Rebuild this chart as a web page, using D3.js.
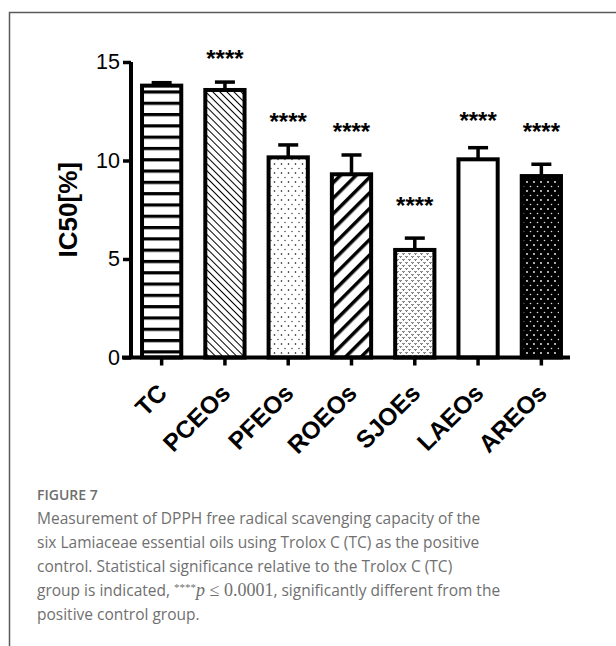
<!DOCTYPE html>
<html>
<head>
<meta charset="utf-8">
<script src="https://cdn.jsdelivr.net/npm/d3@7"></script>
<style>
  html, body { margin: 0; padding: 0; background: #fff; }
  svg { display: block; }
</style>
</head>
<body>
<svg id="chart" width="616" height="646"></svg>
<script>
// ---- data ----
const categories = ["TC", "PCEOs", "PFEOs", "ROEOs", "SJOEs", "LAEOs", "AREOs"];
const means      = [13.80, 13.58, 10.16, 9.30, 5.46, 10.06, 9.21];
const errors     = [0.15, 0.40, 0.63, 0.98, 0.60, 0.59, 0.60];
const sigLabels  = ["", "****", "****", "****", "****", "****", "****"];
const sigHeights = [null, 15.43, 12.23, 11.72, 7.92, 12.28, 11.72];
const yTicks     = [0, 5, 10, 15];
const patterns   = ["hstripe", "thinDiag", "dots", "thickDiag", "speckle", "none", "blackDots"];
const yLabel = "IC50[%]";
const figLabel = "FIGURE 7";
const captionLines = [
  "Measurement of DPPH free radical scavenging capacity of the",
  "six Lamiaceae essential oils using Trolox C (TC) as the positive",
  "control. Statistical significance relative to the Trolox C (TC)",
  null,
  "positive control group."
];

const svg = d3.select("#chart");

// frame
svg.append("path")
  .attr("d", "M9.5,646 L9.5,12.5 L616,12.5")
  .attr("fill", "none").attr("stroke", "#5a5a5a").attr("stroke-width", 1.5);

// ---- patterns ----
const defs = svg.append("defs");
let p = defs.append("pattern").attr("id", "hstripe").attr("patternUnits", "userSpaceOnUse")
  .attr("width", 10).attr("height", 11.3).attr("y", 0);
p.append("rect").attr("width", 10).attr("height", 11.3).attr("fill", "#fff");
p.append("rect").attr("y", 0).attr("width", 10).attr("height", 3.2).attr("fill", "#000");
// thin "\" diagonal
p = defs.append("pattern").attr("id", "thinDiag").attr("patternUnits", "userSpaceOnUse")
  .attr("width", 5).attr("height", 5).attr("patternTransform", "rotate(-45)");
p.append("rect").attr("width", 5).attr("height", 5).attr("fill", "#fff");
p.append("rect").attr("x", 0).attr("width", 1).attr("height", 5).attr("fill", "#000");
// sparse dots
p = defs.append("pattern").attr("id", "dots").attr("patternUnits", "userSpaceOnUse")
  .attr("width", 7).attr("height", 9);
p.append("rect").attr("width", 7).attr("height", 9).attr("fill", "#fff");
p.append("circle").attr("cx", 1.5).attr("cy", 2).attr("r", 0.8).attr("fill", "#000");
p.append("circle").attr("cx", 5).attr("cy", 6.5).attr("r", 0.7).attr("fill", "#333");
// thick "/" diagonal
p = defs.append("pattern").attr("id", "thickDiag").attr("patternUnits", "userSpaceOnUse")
  .attr("width", 11).attr("height", 11).attr("patternTransform", "rotate(45)");
p.append("rect").attr("width", 11).attr("height", 11).attr("fill", "#fff");
p.append("rect").attr("x", 0).attr("width", 3.5).attr("height", 11).attr("fill", "#000");
// speckle
p = defs.append("pattern").attr("id", "speckle").attr("patternUnits", "userSpaceOnUse")
  .attr("width", 6).attr("height", 6);
p.append("rect").attr("width", 6).attr("height", 6).attr("fill", "#fff");
p.append("path").attr("d", "M0.5,1 L1.5,2.5 L2.5,1").attr("fill", "none").attr("stroke", "#222").attr("stroke-width", 0.8);
p.append("path").attr("d", "M3.5,4 L4.5,5.5 L5.5,4").attr("fill", "none").attr("stroke", "#222").attr("stroke-width", 0.8);
// black with white dots
p = defs.append("pattern").attr("id", "blackDots").attr("patternUnits", "userSpaceOnUse")
  .attr("width", 7).attr("height", 9);
p.append("rect").attr("width", 7).attr("height", 9).attr("fill", "#000");
p.append("circle").attr("cx", 2).attr("cy", 2).attr("r", 0.9).attr("fill", "#fff");
p.append("circle").attr("cx", 5.5).attr("cy", 6.5).attr("r", 0.8).attr("fill", "#ddd");

// ---- scales ----
const x = d3.scaleBand().domain(categories).range([130, 573]).paddingInner(0.38).paddingOuter(0.19);
const y = d3.scaleLinear().domain([0, 15]).range([357.5, 62]);

const data = categories.map((c, i) => ({ c, m: means[i], e: errors[i], s: sigLabels[i], sh: sigHeights[i], p: patterns[i] }));

// bars
svg.append("g").selectAll("rect").data(data).join("rect")
  .attr("x", d => x(d.c))
  .attr("y", d => y(d.m))
  .attr("width", x.bandwidth())
  .attr("height", d => y(0) - y(d.m))
  .attr("fill", d => d.p === "none" ? "#fff" : `url(#${d.p})`)
  .attr("stroke", "#000").attr("stroke-width", 4);

// error bars
const eb = svg.append("g").attr("stroke", "#000").attr("stroke-width", 3.5);
eb.selectAll("line.v").data(data).join("line").attr("class", "v")
  .attr("x1", d => x(d.c) + x.bandwidth() / 2).attr("x2", d => x(d.c) + x.bandwidth() / 2)
  .attr("y1", d => y(d.m)).attr("y2", d => y(d.m + d.e));
eb.selectAll("line.c").data(data).join("line").attr("class", "c")
  .attr("x1", d => x(d.c) + x.bandwidth() / 2 - 10).attr("x2", d => x(d.c) + x.bandwidth() / 2 + 10)
  .attr("y1", d => y(d.m + d.e)).attr("y2", d => y(d.m + d.e));

// significance
svg.append("g").selectAll("text").data(data.filter(d => d.s)).join("text")
  .attr("x", d => x(d.c) + x.bandwidth() / 2)
  .attr("y", d => y(d.sh) + 13)
  .attr("text-anchor", "middle")
  .attr("font-family", "Liberation Sans, Arial, sans-serif")
  .attr("font-size", 24).attr("font-weight", "bold")
  .text(d => d.s);

// y axis
const yAxis = svg.append("g").attr("transform", "translate(131,0)")
  .call(d3.axisLeft(y).tickValues(yTicks).tickSize(8).tickPadding(3).tickFormat(d3.format("d")));
yAxis.select(".domain").attr("stroke", "#000").attr("stroke-width", 4).attr("d", `M0,${y(15)}V${y(0)}`);
yAxis.selectAll(".tick line").attr("stroke", "#000").attr("stroke-width", 3.5);
yAxis.selectAll(".tick text").attr("font-family", "Liberation Sans, Arial, sans-serif")
  .attr("font-size", 21.5).attr("fill", "#000");

// x axis
const xAxis = svg.append("g").attr("transform", `translate(0,${y(0)})`)
  .call(d3.axisBottom(x).tickSize(8).tickPadding(4));
xAxis.select(".domain").attr("stroke", "#000").attr("stroke-width", 4).attr("d", "M122,0H570");
xAxis.selectAll(".tick line").attr("stroke", "#000").attr("stroke-width", 3.5);
xAxis.selectAll(".tick text")
  .attr("font-family", "Liberation Sans, Arial, sans-serif")
  .attr("font-size", 24.5).attr("font-weight", "bold").attr("fill", "#000")
  .attr("text-anchor", "end")
  .attr("y", 0).attr("dy", 0)
  .attr("transform", "translate(7,37) rotate(-45)");

// y label
svg.append("text")
  .attr("transform", `translate(77,${(y(0) + y(15)) / 2}) rotate(-90)`)
  .attr("text-anchor", "middle")
  .attr("font-family", "Liberation Sans, Arial, sans-serif")
  .attr("font-size", 26).attr("font-weight", "bold")
  .text(yLabel);

// caption
const capFont = "Open Sans, Lato, sans-serif";
svg.append("text").attr("x", 37).attr("y", 500)
  .attr("font-family", capFont).attr("font-size", 14).attr("font-weight", 600)
  .attr("fill", "#6e6e6e").text(figLabel);
const cap = svg.append("g").attr("font-family", capFont).attr("font-size", 15.5).attr("fill", "#707070");
captionLines.forEach((t, i) => {
  const tx = cap.append("text").attr("x", 37).attr("y", 524 + i * 24);
  if (t !== null) { tx.text(t); return; }
  tx.append("tspan").text("group is indicated, ");
  tx.append("tspan").attr("font-family", "Liberation Serif, serif").attr("font-size", 11).attr("dy", -5).text("****");
  tx.append("tspan").attr("font-family", "Liberation Serif, serif").attr("font-style", "italic").attr("font-size", 18).attr("dy", 5).text("p");
  tx.append("tspan").attr("font-family", "Liberation Serif, serif").attr("font-size", 18).text(" \u2264 0.0001");
  tx.append("tspan").text(", significantly different from the");
});
</script>
</body>
</html>
